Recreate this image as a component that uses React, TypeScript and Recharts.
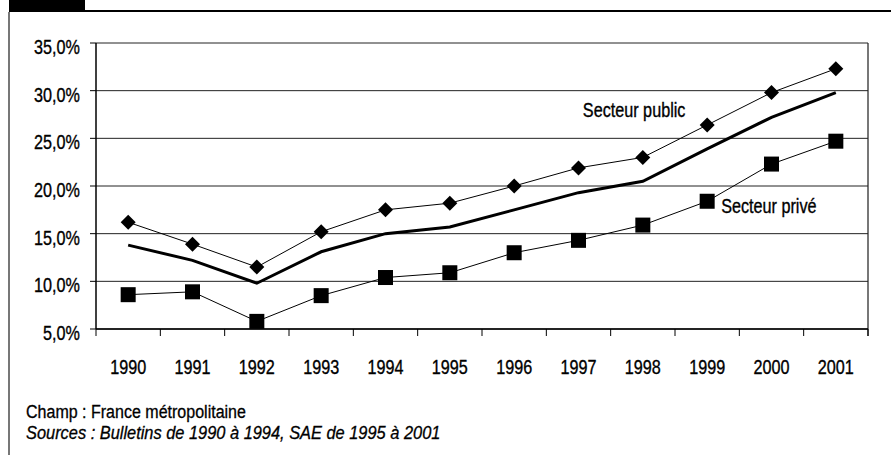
import React from 'react';
import { LineChart, Line, XAxis, YAxis, CartesianGrid, LabelList } from 'recharts';

// Years on the horizontal axis
const years = ['1990', '1991', '1992', '1993', '1994', '1995', '1996', '1997', '1998', '1999', '2000', '2001'];

// Rates (%) by sector
const secteurPublic = [16.2, 13.9, 11.5, 15.2, 17.5, 18.2, 20.0, 21.9, 23.0, 26.4, 29.8, 32.3];
const ensemble = [13.8, 12.2, 9.8, 13.1, 15.0, 15.7, 17.5, 19.3, 20.5, 23.9, 27.2, 29.8];
const secteurPrive = [8.6, 8.9, 5.8, 8.5, 10.4, 10.9, 13.0, 14.3, 15.9, 18.4, 22.3, 24.7];

// Vertical axis ticks (%)
const yTicks = [5, 10, 15, 20, 25, 30, 35];

// Series captions
const publicCaption = 'Secteur public';
const priveCaption = 'Secteur privé';

const data = years.map((year, i) => ({
  year,
  public: secteurPublic[i],
  ensemble: ensemble[i],
  prive: secteurPrive[i],
}));

// Narrow sans look: Liberation Sans squeezed horizontally
const FONT = "'Liberation Sans', Arial, sans-serif";
const FONT_SIZE = 20;
const SQUEEZE = 0.81;
const X_TICK_MARGIN = 31;
const X_TICK_LEN = 7;

const formatPct = (v: number) => v.toFixed(1).replace('.', ',') + '%';

// SVG text drawn in the narrow style
const NarrowText = ({
  x,
  y,
  anchor = 'start',
  dy,
  children,
}: {
  x: number;
  y: number;
  anchor?: 'start' | 'middle' | 'end';
  dy?: string;
  children: React.ReactNode;
}) => (
  <text
    transform={`translate(${x} ${y}) scale(${SQUEEZE} 1)`}
    x={0}
    y={0}
    dy={dy}
    textAnchor={anchor}
    fontFamily={FONT}
    fontSize={FONT_SIZE}
    fill="#000"
    stroke="#000"
    strokeWidth={0.35}
  >
    {children}
  </text>
);

const Diamond = (props: any) => {
  const { cx, cy, index } = props;
  if (cx == null || cy == null) return <g key={`d-${index}`} />;
  const r = 7.5;
  return (
    <path
      key={`d-${index}`}
      d={`M${cx},${cy - r} L${cx + r},${cy} L${cx},${cy + r} L${cx - r},${cy} Z`}
      fill="#000"
      stroke="none"
    />
  );
};

const Square = (props: any) => {
  const { cx, cy, index } = props;
  if (cx == null || cy == null) return <g key={`s-${index}`} />;
  const h = 7.5;
  return <rect key={`s-${index}`} x={cx - h} y={cy - h} width={2 * h} height={2 * h} fill="#000" />;
};

// Year label with a tick mark on each category boundary
const YearTick = (props: any) => {
  const { x, y, payload, index, visibleTicksCount } = props;
  const half = payload && payload.offset ? payload.offset : 0;
  const axisY = y - X_TICK_MARGIN;
  const isLast = index === (visibleTicksCount ?? years.length) - 1;
  return (
    <g>
      <line x1={x - half} x2={x - half} y1={axisY} y2={axisY + X_TICK_LEN} stroke="#000" strokeWidth={1} />
      {isLast && (
        <line x1={x + half} x2={x + half} y1={axisY} y2={axisY + X_TICK_LEN} stroke="#000" strokeWidth={1} />
      )}
      <NarrowText x={x} y={y} dy="0.71em" anchor="middle">
        {payload.value}
      </NarrowText>
    </g>
  );
};

// Percentage label, sitting slightly below its gridline
const PctTick = (props: any) => {
  const { x, y, payload } = props;
  return (
    <NarrowText x={x} y={y + 4} dy="0.355em" anchor="end">
      {formatPct(payload.value)}
    </NarrowText>
  );
};

const publicLabel = (props: any) => {
  const { x, y, index } = props;
  if (index !== 8) return null;
  return (
    <NarrowText x={x - 60} y={y - 40}>
      {publicCaption}
    </NarrowText>
  );
};

const priveLabel = (props: any) => {
  const { x, y, index } = props;
  if (index !== 9) return null;
  return (
    <NarrowText x={x + 14} y={y + 12}>
      {priveCaption}
    </NarrowText>
  );
};

const abs = (style: React.CSSProperties): React.CSSProperties => ({ position: 'absolute', ...style });

const noteStyle = (squeeze: number): React.CSSProperties => ({
  fontFamily: FONT,
  fontSize: 18,
  color: '#000',
  whiteSpace: 'nowrap',
  lineHeight: '21px',
  transform: `scaleX(${squeeze})`,
  transformOrigin: '0 0',
  WebkitTextStroke: '0.3px #000',
});

export default function App() {
  return (
    <div style={abs({ left: 0, top: 0, width: 891, height: 466, background: '#fff', overflow: 'hidden' })}>
      {/* frame */}
      <div style={abs({ left: 9, top: 0, width: 76, height: 12, background: '#000' })} />
      <div style={abs({ left: 85, top: 10, width: 806, height: 1.5, background: '#000' })} />
      <div style={abs({ left: 8, top: 12, width: 2, height: 443, background: '#777' })} />
      <div style={abs({ left: 867, top: 43, width: 2, height: 293, background: '#777' })} />

      <div style={abs({ left: 0, top: 0 })}>
        <LineChart
          width={891}
          height={466}
          data={data}
          margin={{ top: 43, right: 23, left: 10, bottom: 97 }}
        >
          <CartesianGrid vertical={false} stroke="#222" strokeWidth={1} />
          <XAxis
            dataKey="year"
            scale="band"
            height={40}
            axisLine={{ stroke: '#000', strokeWidth: 1.5 }}
            tickLine={false}
            tickSize={0}
            tickMargin={X_TICK_MARGIN}
            tick={<YearTick />}
            interval={0}
          />
          <YAxis
            domain={[5, 35]}
            ticks={yTicks}
            width={86}
            tickSize={6}
            tickMargin={10}
            axisLine={{ stroke: '#000', strokeWidth: 1.5 }}
            tickLine={{ stroke: '#000' }}
            tick={<PctTick />}
            interval={0}
          />
          <Line
            dataKey="ensemble"
            stroke="#000"
            strokeWidth={3}
            dot={false}
            activeDot={false}
            isAnimationActive={false}
          />
          <Line
            dataKey="public"
            stroke="#000"
            strokeWidth={1}
            dot={Diamond}
            activeDot={false}
            isAnimationActive={false}
          >
            <LabelList dataKey="public" content={publicLabel} />
          </Line>
          <Line
            dataKey="prive"
            stroke="#000"
            strokeWidth={1}
            dot={Square}
            activeDot={false}
            isAnimationActive={false}
          >
            <LabelList dataKey="prive" content={priveLabel} />
          </Line>
        </LineChart>
      </div>

      <div style={abs({ left: 26, top: 402, ...noteStyle(0.89) })}>Champ : France métropolitaine</div>
      <div style={abs({ left: 26, top: 423, ...noteStyle(0.91), fontStyle: 'italic' })}>
        Sources : Bulletins de 1990 à 1994, SAE de 1995 à 2001
      </div>
    </div>
  );
}
